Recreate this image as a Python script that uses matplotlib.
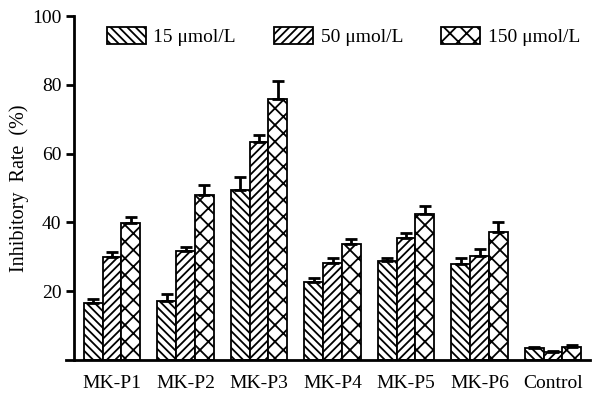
import numpy as np
import matplotlib
matplotlib.use('Agg')
import matplotlib.pyplot as plt

plt.rcParams['font.family'] = ['Liberation Serif', 'DejaVu Serif']
plt.rcParams['hatch.linewidth'] = 1.3

groups = ['MK-P1', 'MK-P2', 'MK-P3', 'MK-P4', 'MK-P5', 'MK-P6', 'Control']
labels = ['15 \u03bcmol/L', '50 \u03bcmol/L', '150 \u03bcmol/L']
rate_15 = [16.5, 17.2, 49.4, 22.6, 28.8, 28.0, 3.5]
rate_50 = [30.0, 31.8, 63.5, 28.1, 35.4, 30.3, 2.4]
rate_150 = [39.9, 48.0, 75.9, 33.6, 42.4, 37.1, 3.9]
err_15 = [1.2, 2.0, 3.7, 1.4, 1.0, 1.7, 0.3]
err_50 = [1.3, 1.1, 1.9, 1.6, 1.4, 1.9, 0.2]
err_150 = [1.6, 2.9, 5.2, 1.7, 2.4, 3.0, 0.6]

fig = plt.figure(figsize=(6, 4.01), dpi=100)
ax = fig.add_axes([0.11, 0.102, 0.873, 0.858])

x = np.arange(len(groups))
w = 0.255
series = [(rate_15, err_15, '\\\\\\\\'), (rate_50, err_50, '////'), (rate_150, err_150, 'xx')]
for k, (vals, errs, hatch) in enumerate(series):
    pos = x + (k - 1) * w
    ax.bar(pos, vals, w, color='white', edgecolor='black', linewidth=1.3,
           hatch=hatch, label=labels[k], zorder=2)
    ax.errorbar(pos, vals, yerr=[np.zeros(len(vals)), errs], fmt='none',
                ecolor='black', elinewidth=2, capsize=4, capthick=2, zorder=3)

ax.set_xlim(-0.626, 6.5)
ax.set_ylim(0, 100)
ax.spines['left'].set_position(('data', -0.52))
ax.spines['left'].set_bounds(0, 100)
for s in ['top', 'right']:
    ax.spines[s].set_visible(False)
ax.spines['left'].set_linewidth(2)
ax.spines['bottom'].set_linewidth(2)
ax.set_yticks([20, 40, 60, 80, 100])
ax.tick_params(axis='y', length=6, width=2, labelsize=14, pad=3)
ax.set_xticks(x)
ax.set_xticklabels(groups)
ax.tick_params(axis='x', length=0, labelsize=14, pad=11)
ax.set_ylabel('Inhibitory  Rate  (%)', fontsize=14.5, labelpad=2)

ax.legend(loc='upper left', bbox_to_anchor=(0.178, 0.933), bbox_transform=fig.transFigure,
          ncol=3, frameon=False, fontsize=14, handlelength=2.0, handleheight=0.95,
          handletextpad=0.4, columnspacing=1.95, borderaxespad=0, borderpad=0)

fig.savefig('out.png', dpi=100)
